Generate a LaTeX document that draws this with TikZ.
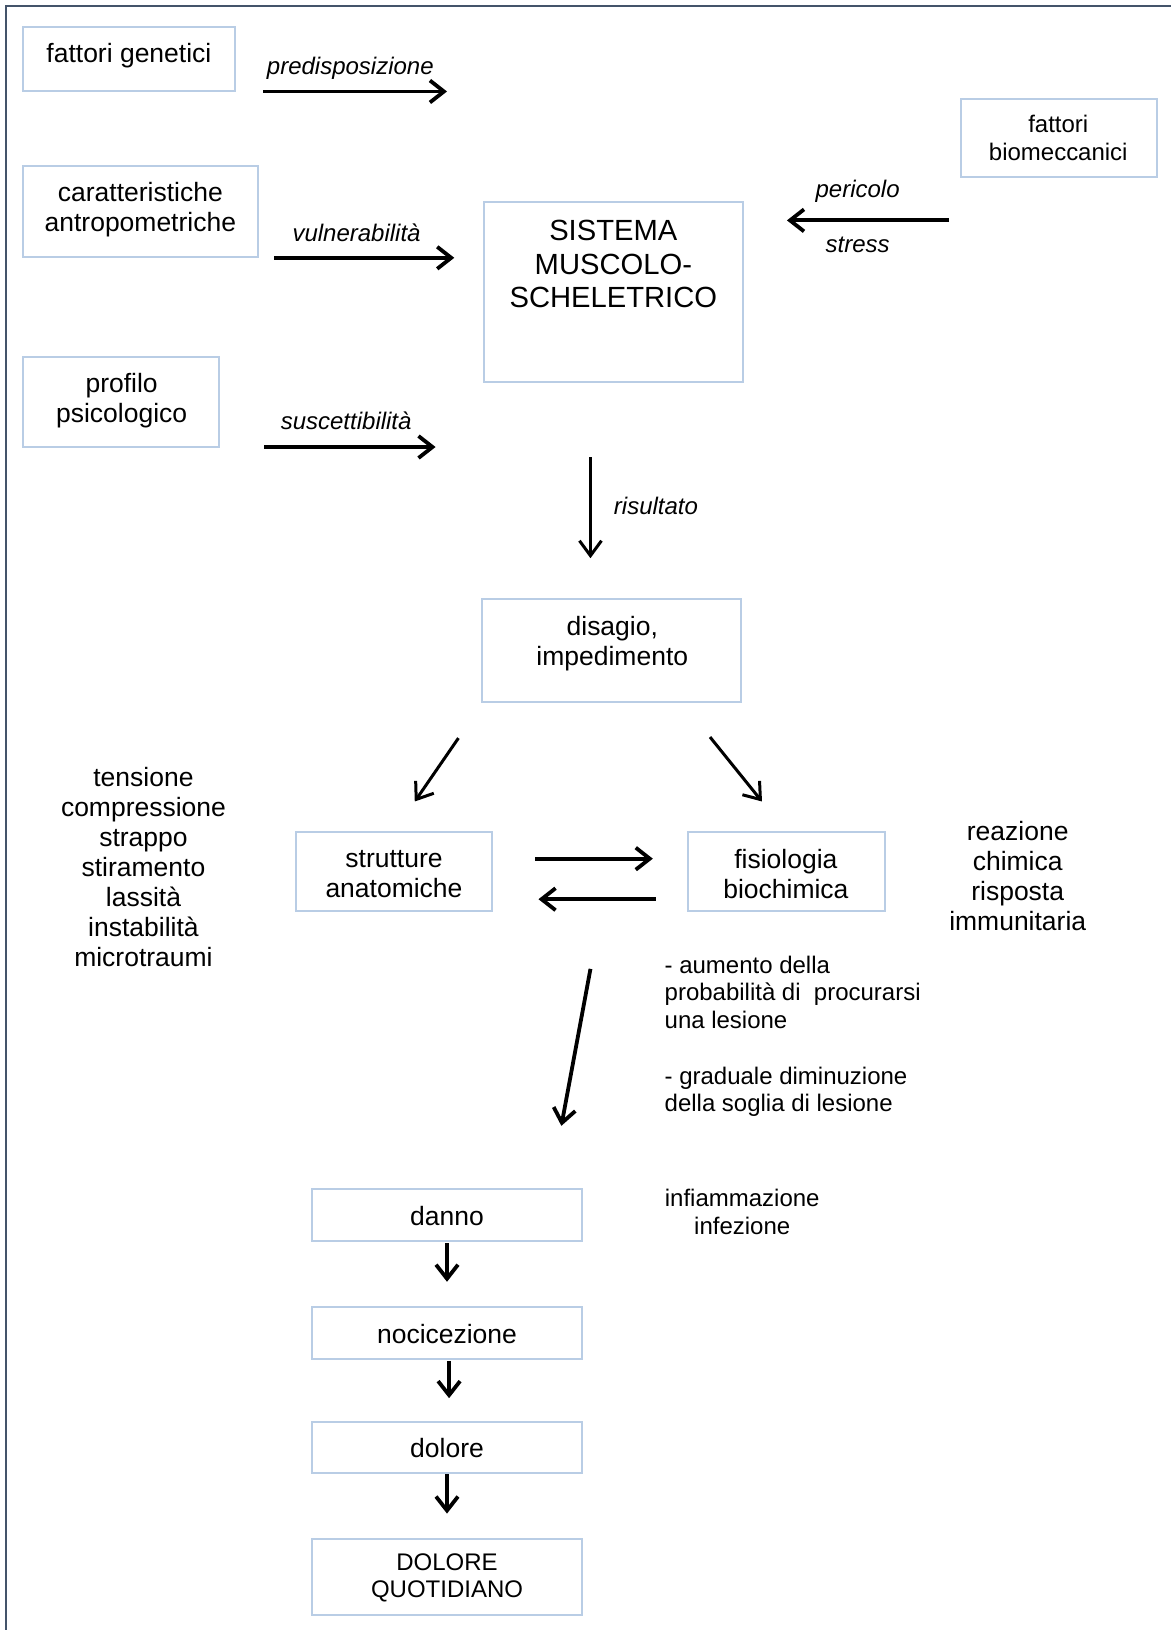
\documentclass[tikz,border=0pt]{standalone}
\usepackage{fontspec}
\setmainfont{Liberation Sans}
\usetikzlibrary{arrows.meta}
\definecolor{boxblue}{RGB}{185,205,229}
\definecolor{frameline}{RGB}{68,84,106}
\begin{document}
\begin{tikzpicture}[x=0.52pt,y=-0.52pt,
  box/.style={draw=boxblue, line width=1pt, inner sep=0pt},
  txt/.style={inner sep=0pt, align=center, font=\fontsize{13.25}{15}\selectfont},
  big/.style={inner sep=0pt, align=center, font=\fontsize{14.6}{16.9}\selectfont},
  lbl/.style={inner sep=0pt, font=\fontsize{12}{14}\selectfont\itshape},
  smalltxt/.style={inner sep=0pt, font=\fontsize{12}{13.6}\selectfont},
  arr/.style={line width=1.9pt, -{Straight Barb[length=7pt,width=11pt,line width=1.9pt]}},
  arrthin/.style={line width=1.5pt, -{Straight Barb[length=7.5pt,width=11pt,line width=1.5pt]}},
]
\useasboundingbox (0,0) rectangle (1126,1568);
\fill[white] (0,0) rectangle (1126,1568);
\draw[frameline, line width=0.9pt] (6,1568) -- (6,6) -- (1126,6);

% boxes
\node[box, minimum width=204*0.52pt, minimum height=62*0.52pt] (fg) at (124,57) {};
\node[txt] (fgt) at (124,54) {fattori genetici};

\node[box, minimum width=226*0.52pt, minimum height=87*0.52pt] (ca) at (135,203.5) {};
\node[txt] (cat) at (135,202) {caratteristiche\\antropometriche};

\node[box, minimum width=249*0.52pt, minimum height=173*0.52pt] (sms) at (590.5,280.5) {};
\node[big] (smst) at (590,254) {SISTEMA\\MUSCOLO-\\SCHELETRICO};

\node[box, minimum width=189*0.52pt, minimum height=75*0.52pt] (fb) at (1018.5,132.5) {};
\node[smalltxt, align=center, font=\fontsize{12}{14}\selectfont] (fbt) at (1018,133) {fattori\\biomeccanici};

\node[box, minimum width=189*0.52pt, minimum height=87*0.52pt] (pp) at (116.5,386.5) {};
\node[txt] (ppt) at (117,385.5) {profilo\\psicologico};

\node[box, minimum width=249*0.52pt, minimum height=99*0.52pt] (di) at (588.5,625.5) {};
\node[txt] (dit) at (589,619) {disagio,\\impedimento};

\node[box, minimum width=188*0.52pt, minimum height=76*0.52pt] (sa) at (379,838) {};
\node[txt] (sat) at (379,841) {strutture\\anatomiche};

\node[box, minimum width=189*0.52pt, minimum height=76*0.52pt] (fi) at (756.5,838) {};
\node[txt] (fit) at (756,841) {fisiologia\\biochimica};

\node[box, minimum width=260*0.52pt, minimum height=50*0.52pt] (da) at (430,1169) {};
\node[txt] (dat) at (430,1170) {danno};

\node[box, minimum width=260*0.52pt, minimum height=50*0.52pt] (no) at (430,1282) {};
\node[txt] (not) at (430,1283) {nocicezione};

\node[box, minimum width=260*0.52pt, minimum height=49*0.52pt] (do) at (430,1392.5) {};
\node[txt] (dot) at (430,1393) {dolore};

\node[box, minimum width=260*0.52pt, minimum height=74*0.52pt] (dq) at (430,1517) {};
\node[smalltxt, align=center] (dqt) at (430,1518) {DOLORE\\QUOTIDIANO};

% free texts
\node[txt] (tens) at (138,834) {tensione\\compressione\\strappo\\stiramento\\lassità\\instabilità\\microtraumi};
\node[txt] (reaz) at (979,843) {reazione\\chimica\\risposta\\immunitaria};
\node[smalltxt, align=left, anchor=west] (aum) at (639,997) {- aumento della\\probabilità di\ \ procurarsi\\una lesione\\[14.5pt]- graduale diminuzione\\della soglia di lesione};
\node[smalltxt, align=center, font=\fontsize{12}{14}\selectfont] (inf) at (714,1166) {infiammazione\\infezione};

% labels
\node[lbl] (l1) at (337,66) {predisposizione};
\node[lbl] (l2) at (343,224) {vulnerabilità};
\node[lbl] (l3) at (333,405) {suscettibilità};
\node[lbl] (l4) at (825,184) {pericolo};
\node[lbl] (l5) at (825,236) {stress};
\node[lbl] (l6) at (631,487) {risultato};

% arrow end points
\coordinate (a1s) at (253,88);  \coordinate (a1e) at (430,88);
\coordinate (a2s) at (264,248); \coordinate (a2e) at (437,248);
\coordinate (a3s) at (254,430); \coordinate (a3e) at (419,430);
\coordinate (a4s) at (913,212); \coordinate (a4e) at (757,212);
\coordinate (a5s) at (568,440); \coordinate (a5e) at (568,537);
\coordinate (a6s) at (441,710); \coordinate (a6e) at (399,771);
\coordinate (a7s) at (683,709); \coordinate (a7e) at (733,771);
\coordinate (a8s) at (515,826); \coordinate (a8e) at (628,826);
\coordinate (a9s) at (631,865); \coordinate (a9e) at (518,865);
\coordinate (a10s) at (568,932); \coordinate (a10e) at (540,1083);
\coordinate (a11s) at (430,1196); \coordinate (a11e) at (430,1233);
\coordinate (a12s) at (432,1309); \coordinate (a12e) at (432,1345);
\coordinate (a13s) at (430,1418); \coordinate (a13e) at (430,1456);

\draw[arr] (a1s) -- (a1e);
\draw[arr] (a2s) -- (a2e);
\draw[arr] (a3s) -- (a3e);
\draw[arr] (a4s) -- (a4e);
\draw[arrthin] (a5s) -- (a5e);
\draw[arrthin] (a6s) -- (a6e);
\draw[arrthin] (a7s) -- (a7e);
\draw[arr] (a8s) -- (a8e);
\draw[arr] (a9s) -- (a9e);
\draw[arr] (a10s) -- (a10e);
\draw[arr] (a11s) -- (a11e);
\draw[arr] (a12s) -- (a12e);
\draw[arr] (a13s) -- (a13e);
\end{tikzpicture}
\end{document}
